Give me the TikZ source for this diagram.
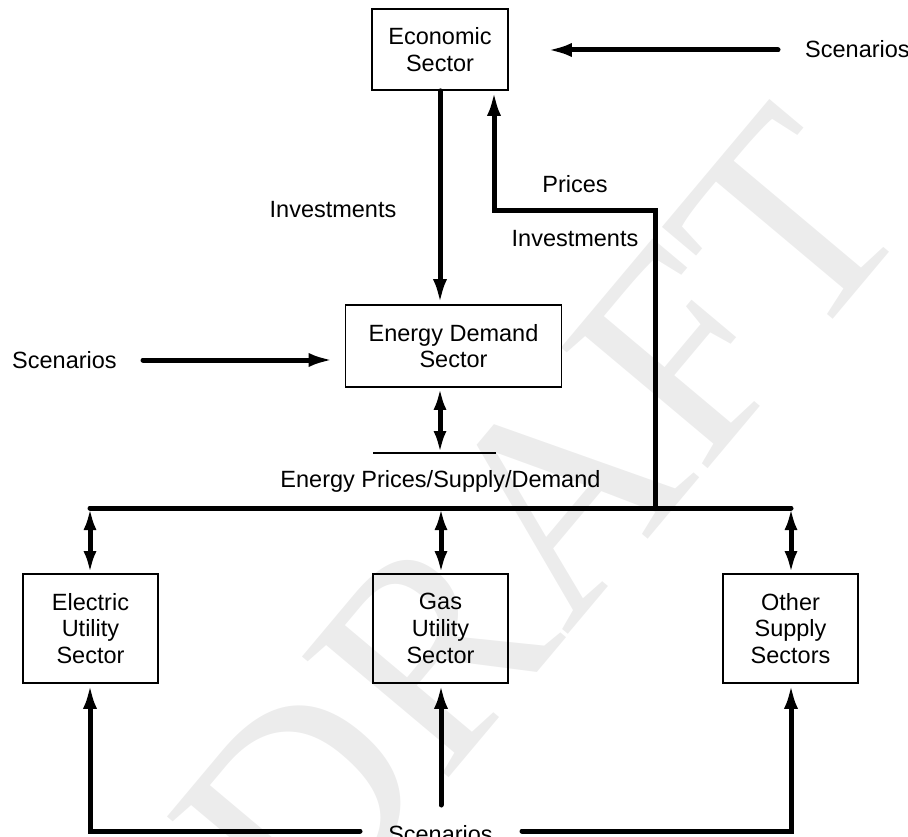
\documentclass[tikz,border=0pt]{standalone}
\usepackage{fontspec}
\setmainfont{Liberation Sans}
\newfontfamily\wmfont{Liberation Serif}
\usetikzlibrary{arrows.meta}
\newcommand{\fs}{\fontsize{23.5}{26.8}\selectfont}
\begin{document}
\begin{tikzpicture}[x=1pt,y=-1pt,
  box/.style={draw, line width=1.8pt, inner sep=0pt, align=center, font=\fs},
  lbl/.style={font=\fs, inner sep=0pt, anchor=base},
  flow/.style={line width=5pt, line cap=round, -{Latex[length=25pt,width=14pt]}},
  bflow/.style={line width=5pt, {Latex[length=22pt,width=13pt]}-{Latex[length=22pt,width=13pt]}},
  bar/.style={line width=5pt, line cap=round},
  thin/.style={line width=1.8pt},
]
\useasboundingbox (0,0) rectangle (908,837);
% watermark
\node[rotate=50, font=\wmfont\fontsize{290}{290}\selectfont, text=gray!15, inner sep=0pt] (wm) at (540,520) {DRAFT};

% boxes
\node[box, minimum width=136pt, minimum height=81pt] (econ) at (440,49.5) {Economic\\Sector};
\node[box, minimum width=216pt, minimum height=82pt] (ed) at (453.5,346) {Energy Demand\\Sector};
\node[box, minimum width=135pt, minimum height=109pt] (elec) at (90.5,628.5) {Electric\\Utility\\Sector};
\node[box, minimum width=135pt, minimum height=109pt] (gas) at (440.5,628.5) {Gas\\Utility\\Sector};
\node[box, minimum width=135pt, minimum height=109pt] (oth) at (790.5,628.5) {Other\\Supply\\Sectors};

% labels
\node[lbl, anchor=base west] (sct) at (805,58) {Scenarios};
\node[lbl, anchor=base west] (scl) at (12,368) {Scenarios};
\node[lbl] (scb) at (440.5,842) {Scenarios};
\node[lbl] (invl) at (333,218) {Investments};
\node[lbl] (pri) at (575,193) {Prices};
\node[lbl] (invr) at (575,247) {Investments};
\node[lbl] (eps) at (440.5,487) {Energy Prices/Supply/Demand};

% coordinates
\coordinate (xl) at (440,0);
\coordinate (xr) at (494,0);
\coordinate (pc) at (655,211);
\coordinate (pb) at (655,508);
\coordinate (busL) at (90,508);
\coordinate (busR) at (791,508);
\coordinate (st) at (778,50);
\coordinate (sl) at (143,360);
\coordinate (bl) at (360,831);
\coordinate (br) at (522,831);
\coordinate (gs) at (441,805);
\coordinate (tl) at (373,453);
\coordinate (tr) at (496,453);

% top scenarios
\draw[flow, shorten >=38pt] (st) -- (econ.east |- st);
% investments down
\draw[flow] (econ.south -| xl) -- (ed.north -| xl);
% prices up
\draw[flow, line cap=butt] (pb) -- (pc) -| (econ.south -| xr);
% left scenarios
\draw[flow, shorten >=11pt] (sl) -- (ed.west |- sl);
% energy demand to bar
\draw[thin] (tl) -- (tr);
\draw[bflow] (ed.south -| xl) -- (tl -| xl);
% bus
\draw[bar] (busL) -- (busR);
\draw[bflow] (busL) -- (elec.north -| busL);
\draw[bflow] (busL -| gs) -- (gas.north -| gs);
\draw[bflow] (busR) -- (oth.north -| busR);
% bottom scenarios
\draw[flow] (bl) -| (elec.south -| busL);
\draw[flow] (br) -| (oth.south -| busR);
\draw[flow] (gs) -- (gas.south -| gs);
\end{tikzpicture}
\end{document}
